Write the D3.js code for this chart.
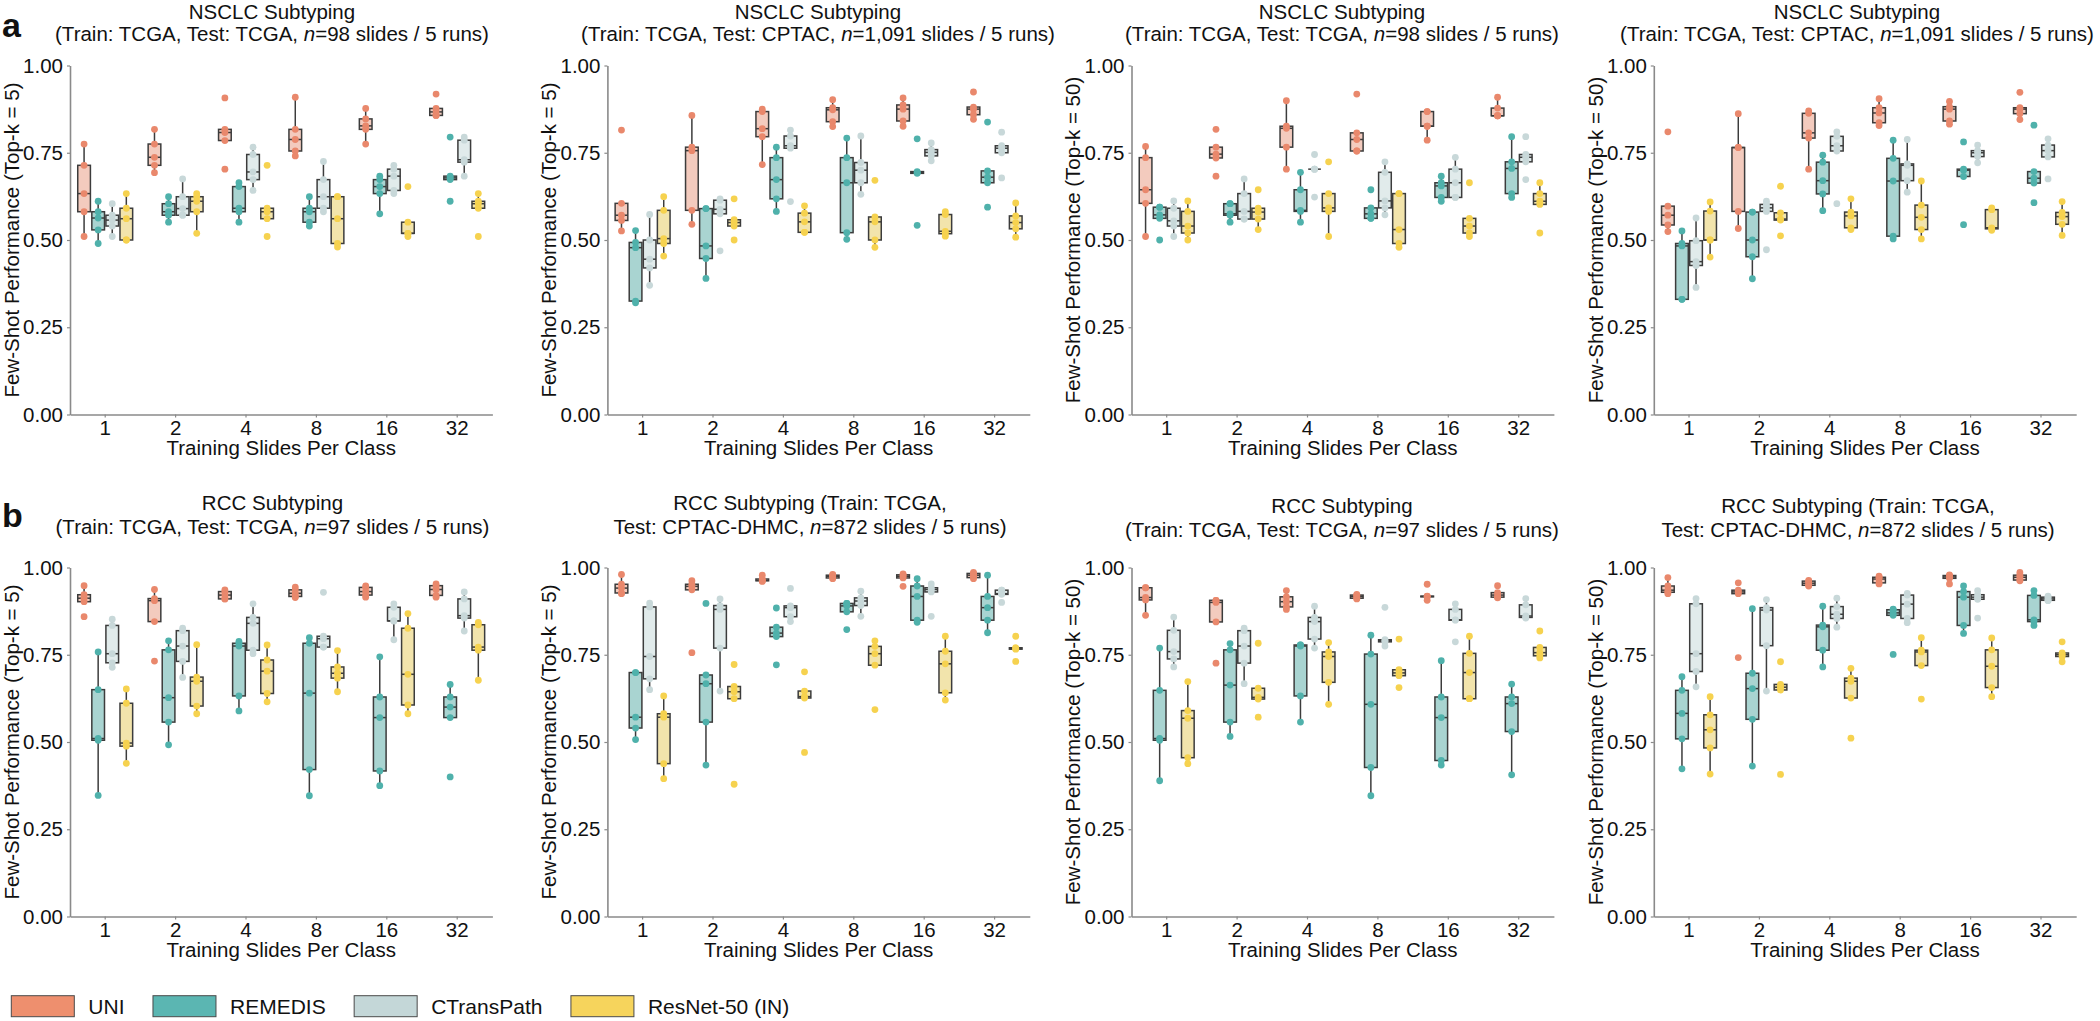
<!DOCTYPE html>
<html>
<head>
<meta charset="utf-8">
<script src="https://cdn.jsdelivr.net/npm/d3@7"></script>
<style>
  html, body { margin: 0; padding: 0; background: #fff; }
  svg { display: block; }
  text { font-family: "Liberation Sans", Arial, Helvetica, sans-serif; }
</style>
</head>
<body>
<script>
// ---------------- DATA ----------------
const shots = ["1", "2", "4", "8", "16", "32"];
const models = ["UNI", "REMEDIS", "CTransPath", "ResNet-50 (IN)"];
const yTicks = [0, 0.25, 0.5, 0.75, 1.0];

// each: per shot -> [UNI runs, REMEDIS runs, CTransPath runs, ResNet-50 runs] (5 runs each)
const nsclcTcgaTop5 = [
  [[0.775,0.714,0.633,0.581,0.510],[0.611,0.581,0.563,0.529,0.490],[0.604,0.571,0.557,0.540,0.510],[0.633,0.591,0.561,0.500,0.500]],
  [[0.817,0.775,0.737,0.714,0.693],[0.624,0.604,0.581,0.571,0.551],[0.675,0.624,0.590,0.571,0.571],[0.633,0.624,0.611,0.581,0.519]],
  [[0.907,0.817,0.808,0.785,0.703],[0.664,0.653,0.591,0.581,0.551],[0.766,0.745,0.695,0.673,0.642],[0.714,0.591,0.581,0.561,0.510]],
  [[0.909,0.817,0.788,0.755,0.741],[0.624,0.591,0.581,0.551,0.540],[0.725,0.673,0.624,0.591,0.581],[0.624,0.624,0.561,0.490,0.480]],
  [[0.877,0.847,0.827,0.817,0.775],[0.683,0.673,0.653,0.633,0.575],[0.714,0.703,0.683,0.642,0.633],[0.653,0.551,0.519,0.519,0.510]],
  [[0.918,0.877,0.867,0.857,0.857],[0.795,0.683,0.678,0.673,0.611],[0.795,0.786,0.730,0.723,0.683],[0.633,0.611,0.604,0.591,0.510]]
];
const nsclcCptacTop5 = [
  [[0.815,0.605,0.571,0.556,0.526],[0.527,0.493,0.478,0.325,0.320],[0.573,0.500,0.445,0.420,0.370],[0.624,0.585,0.504,0.490,0.454]],
  [[0.857,0.766,0.756,0.585,0.545],[0.590,0.590,0.483,0.447,0.390],[0.618,0.614,0.588,0.575,0.469],[0.618,0.558,0.550,0.540,0.500]],
  [[0.875,0.868,0.819,0.796,0.716],[0.766,0.736,0.673,0.618,0.582],[0.815,0.798,0.770,0.763,0.610],[0.598,0.577,0.552,0.522,0.522]],
  [[0.902,0.879,0.873,0.839,0.825],[0.792,0.736,0.664,0.521,0.502],[0.798,0.722,0.700,0.664,0.631],[0.671,0.566,0.552,0.500,0.479]],
  [[0.907,0.887,0.875,0.841,0.826],[0.790,0.696,0.693,0.691,0.542],[0.778,0.759,0.751,0.741,0.727],[0.581,0.573,0.525,0.518,0.511]],
  [[0.924,0.881,0.875,0.859,0.846],[0.838,0.698,0.680,0.664,0.594],[0.809,0.770,0.763,0.750,0.678],[0.606,0.569,0.550,0.532,0.508]]
];
const nsclcTcgaTop50 = [
  [[0.768,0.736,0.644,0.605,0.510],[0.594,0.594,0.572,0.562,0.500],[0.612,0.591,0.555,0.540,0.510],[0.612,0.582,0.540,0.520,0.500]],
  [[0.817,0.766,0.746,0.735,0.683],[0.604,0.604,0.575,0.571,0.551],[0.675,0.633,0.582,0.560,0.560],[0.644,0.591,0.580,0.560,0.530]],
  [[0.899,0.826,0.820,0.766,0.703],[0.694,0.644,0.585,0.582,0.551],[0.745,0.703,0.703,0.703,0.623],[0.724,0.633,0.592,0.582,0.510]],
  [[0.918,0.807,0.788,0.755,0.755],[0.644,0.592,0.575,0.562,0.562],[0.724,0.694,0.612,0.592,0.572],[0.633,0.633,0.530,0.490,0.479]],
  [[0.868,0.868,0.826,0.826,0.786],[0.683,0.664,0.655,0.622,0.611],[0.737,0.703,0.664,0.622,0.622],[0.664,0.562,0.540,0.520,0.510]],
  [[0.909,0.878,0.856,0.856,0.856],[0.796,0.724,0.705,0.633,0.622],[0.796,0.745,0.737,0.724,0.673],[0.664,0.633,0.611,0.602,0.520]]
];
const nsclcCptacTop50 = [
  [[0.810,0.597,0.571,0.543,0.524],[0.526,0.490,0.483,0.330,0.330],[0.563,0.498,0.438,0.427,0.364],[0.609,0.583,0.500,0.500,0.451]],
  [[0.862,0.765,0.765,0.582,0.533],[0.580,0.580,0.500,0.452,0.389],[0.611,0.602,0.592,0.582,0.472],[0.654,0.578,0.560,0.557,0.512]],
  [[0.870,0.863,0.807,0.792,0.703],[0.743,0.723,0.670,0.632,0.584],[0.810,0.797,0.770,0.755,0.604],[0.618,0.580,0.569,0.535,0.530]],
  [[0.905,0.879,0.864,0.836,0.828],[0.786,0.734,0.669,0.511,0.503],[0.788,0.718,0.714,0.670,0.637],[0.669,0.600,0.565,0.530,0.503]],
  [[0.897,0.882,0.875,0.841,0.832],[0.781,0.703,0.700,0.682,0.544],[0.772,0.756,0.750,0.739,0.721],[0.592,0.587,0.535,0.532,0.528]],
  [[0.923,0.879,0.875,0.862,0.845],[0.829,0.696,0.677,0.663,0.607],[0.790,0.772,0.756,0.738,0.675],[0.610,0.579,0.567,0.545,0.513]]
];
const rccTcgaTop5 = [
  [[0.948,0.922,0.912,0.902,0.859],[0.758,0.650,0.510,0.505,0.347],[0.852,0.834,0.753,0.727,0.714],[0.652,0.611,0.497,0.488,0.439]],
  [[0.937,0.911,0.905,0.845,0.732],[0.790,0.764,0.627,0.557,0.492],[0.826,0.819,0.775,0.731,0.685],[0.779,0.686,0.674,0.603,0.581]],
  [[0.936,0.931,0.921,0.910,0.910],[0.788,0.783,0.775,0.632,0.589],[0.896,0.857,0.840,0.763,0.753],[0.778,0.735,0.703,0.639,0.615]],
  [[0.944,0.936,0.926,0.917,0.914],[0.799,0.783,0.640,0.421,0.346],[0.929,0.803,0.796,0.772,0.772],[0.762,0.715,0.697,0.683,0.644]],
  [[0.947,0.943,0.931,0.921,0.915],[0.744,0.629,0.570,0.417,0.375],[0.896,0.886,0.847,0.847,0.793],[0.868,0.826,0.694,0.606,0.581]],
  [[0.953,0.948,0.937,0.920,0.915],[0.665,0.629,0.600,0.570,0.400],[0.930,0.910,0.862,0.855,0.818],[0.843,0.836,0.772,0.763,0.677]]
];
const rccCptacTop5 = [
  [[0.980,0.952,0.941,0.927,0.925],[0.699,0.699,0.571,0.540,0.507],[0.898,0.887,0.745,0.681,0.650],[0.632,0.581,0.571,0.438,0.395]],
  [[0.962,0.952,0.946,0.936,0.756],[0.897,0.692,0.667,0.557,0.434],[0.910,0.891,0.880,0.769,0.646],[0.722,0.659,0.644,0.624,0.379]],
  [[0.978,0.967,0.963,0.962,0.960],[0.884,0.829,0.812,0.802,0.721],[0.940,0.890,0.885,0.859,0.845],[0.701,0.646,0.630,0.626,0.470]],
  [[0.980,0.978,0.975,0.970,0.968],[0.897,0.897,0.890,0.873,0.822],[0.932,0.913,0.904,0.891,0.860],[0.790,0.774,0.753,0.720,0.593]],
  [[0.982,0.979,0.975,0.970,0.946],[0.968,0.947,0.917,0.849,0.843],[0.953,0.942,0.937,0.930,0.860],[0.803,0.760,0.724,0.641,0.620]],
  [[0.986,0.983,0.978,0.971,0.968],[0.978,0.917,0.885,0.849,0.813],[0.935,0.935,0.925,0.923,0.900],[0.803,0.770,0.768,0.766,0.731]]
];
const rccTcgaTop50 = [
  [[0.942,0.942,0.914,0.907,0.863],[0.769,0.648,0.510,0.505,0.389],[0.858,0.820,0.759,0.738,0.715],[0.673,0.590,0.568,0.455,0.438]],
  [[0.906,0.906,0.900,0.844,0.726],[0.782,0.764,0.663,0.557,0.516],[0.826,0.819,0.775,0.726,0.667],[0.783,0.654,0.628,0.623,0.571]],
  [[0.934,0.916,0.902,0.887,0.880],[0.778,0.778,0.775,0.632,0.557],[0.889,0.857,0.845,0.795,0.769],[0.785,0.758,0.745,0.671,0.608]],
  [[0.923,0.921,0.917,0.912,0.910],[0.806,0.752,0.608,0.427,0.346],[0.886,0.793,0.790,0.787,0.775],[0.795,0.707,0.698,0.690,0.656]],
  [[0.952,0.918,0.917,0.916,0.906],[0.733,0.629,0.570,0.447,0.434],[0.896,0.880,0.850,0.849,0.787],[0.803,0.754,0.699,0.624,0.624]],
  [[0.948,0.928,0.921,0.915,0.913],[0.666,0.629,0.610,0.530,0.406],[0.911,0.893,0.861,0.857,0.855],[0.818,0.771,0.756,0.747,0.741]]
];
const rccCptacTop50 = [
  [[0.971,0.947,0.935,0.929,0.925],[0.687,0.648,0.582,0.509,0.423],[0.911,0.896,0.753,0.702,0.658],[0.630,0.578,0.535,0.483,0.408]],
  [[0.956,0.935,0.930,0.925,0.742],[0.882,0.697,0.653,0.565,0.431],[0.908,0.885,0.878,0.776,0.646],[0.730,0.665,0.657,0.649,0.407]],
  [[0.963,0.961,0.955,0.949,0.947],[0.889,0.835,0.830,0.763,0.715],[0.912,0.888,0.866,0.854,0.829],[0.711,0.683,0.674,0.626,0.511]],
  [[0.975,0.972,0.967,0.956,0.953],[0.881,0.879,0.870,0.863,0.751],[0.926,0.921,0.895,0.854,0.842],[0.799,0.763,0.758,0.719,0.623]],
  [[0.979,0.977,0.973,0.969,0.953],[0.947,0.931,0.915,0.834,0.811],[0.934,0.922,0.915,0.909,0.855],[0.798,0.764,0.717,0.656,0.630]],
  [[0.986,0.978,0.972,0.964,0.962],[0.934,0.920,0.850,0.845,0.834],[0.918,0.915,0.910,0.906,0.905],[0.787,0.755,0.750,0.745,0.730]]
];

const panelTitles = [
  ["NSCLC Subtyping", "(Train: TCGA, Test: TCGA, *n*=98 slides / 5 runs)"],
  ["NSCLC Subtyping", "(Train: TCGA, Test: CPTAC, *n*=1,091 slides / 5 runs)"],
  ["NSCLC Subtyping", "(Train: TCGA, Test: TCGA, *n*=98 slides / 5 runs)"],
  ["NSCLC Subtyping", "(Train: TCGA, Test: CPTAC, *n*=1,091 slides / 5 runs)"],
  ["RCC Subtyping", "(Train: TCGA, Test: TCGA, *n*=97 slides / 5 runs)"],
  ["RCC Subtyping (Train: TCGA,", "Test: CPTAC-DHMC, *n*=872 slides / 5 runs)"],
  ["RCC Subtyping", "(Train: TCGA, Test: TCGA, *n*=97 slides / 5 runs)"],
  ["RCC Subtyping (Train: TCGA,", "Test: CPTAC-DHMC, *n*=872 slides / 5 runs)"]
];
const yLabels = ["Few-Shot Performance (Top-k = 5)", "Few-Shot Performance (Top-k = 5)",
                 "Few-Shot Performance (Top-k = 50)", "Few-Shot Performance (Top-k = 50)"];
const xLabel = "Training Slides Per Class";
const panelLetters = ["a", "b"];

// ---------------- STYLE / LAYOUT ----------------
const dotColors = ["#E9886C", "#4FB1AB", "#C8D8D9", "#F6D24F"];
const boxFills  = ["#F3CBBE", "#A9D4D1", "#E1EBEB", "#F2E4AC"];
const legendFills = ["#EE8F6E", "#5BB6B2", "#C4D7D8", "#F6D45C"];
const W = 2100, H = 1021;
const colLefts = [70, 607.4, 1131.5, 1653.8];
const rowTops = [65.5, 567.5];
const PW = 422.4, PH = 349;
const titleCx = [[272, 818, 1342, 1857], [272.5, 810, 1342, 1858]];
const titleBase = [[[18.8, 41],[18.8, 41],[18.8, 41],[18.8, 41]],
                   [[509.5, 534],[509.5, 534],[513, 537],[513, 537]]];
const FS = 20.5;
const axisColor = "#8a8a8a";
const lineColor = "#3c3c3c";

const panelData = [nsclcTcgaTop5, nsclcCptacTop5, nsclcTcgaTop50, nsclcCptacTop50,
                   rccTcgaTop5, rccCptacTop5, rccTcgaTop50, rccCptacTop50];

const svg = d3.select("body").append("svg").attr("width", W).attr("height", H);
svg.append("rect").attr("width", W).attr("height", H).attr("fill", "#fff");

function stats(vals) {
  const s = vals.slice().sort(d3.ascending);
  const q1 = d3.quantile(s, 0.25), med = d3.quantile(s, 0.5), q3 = d3.quantile(s, 0.75);
  const iqr = q3 - q1;
  const loLim = q1 - 1.5 * iqr, hiLim = q3 + 1.5 * iqr;
  const lo = d3.min(s.filter(v => v >= loLim - 1e-9));
  const hi = d3.max(s.filter(v => v <= hiLim + 1e-9));
  return {q1, med, q3, lo: Math.min(lo, q1), hi: Math.max(hi, q3)};
}

function addRichText(sel, str) {
  str.split("*").forEach((part, i) => {
    if (!part) return;
    const t = sel.append("tspan").text(part);
    if (i % 2 === 1) t.attr("font-style", "italic");
  });
}

panelData.forEach((data, pi) => {
  const row = Math.floor(pi / 4), col = pi % 4;
  const g = svg.append("g").attr("transform", `translate(${colLefts[col]},${rowTops[row]})`);
  const x = d3.scaleBand().domain(shots).range([0, PW]).paddingInner(0).paddingOuter(0);
  const inner = d3.scaleBand().domain(models).range([0, x.bandwidth() * 0.8]);
  const y = d3.scaleLinear().domain([0, 1]).range([PH, 0]);
  const bw = inner.bandwidth() * 0.9;

  // axes
  const ya = g.append("g").call(d3.axisLeft(y).tickValues(yTicks).tickFormat(d3.format(".2f"))
      .tickSize(3).tickSizeOuter(0).tickPadding(4));
  const xa = g.append("g").attr("transform", `translate(0,${PH})`)
      .call(d3.axisBottom(x).tickSize(3).tickSizeOuter(0).tickPadding(3));
  [ya, xa].forEach(a => {
    a.select(".domain").attr("stroke", axisColor).attr("stroke-width", 1.6);
    a.selectAll(".tick line").attr("stroke", axisColor).attr("stroke-width", 1.2);
    a.selectAll(".tick text").attr("font-size", FS).attr("fill", "#111")
      .attr("font-family", '"Liberation Sans", Arial, sans-serif');
  });

  // boxes
  data.forEach((groupVals, si) => {
    const gx = x(shots[si]) + x.bandwidth() * 0.1;
    groupVals.forEach((vals, mi) => {
      const st = stats(vals);
      const cx = gx + inner(models[mi]) + inner.bandwidth() / 2;
      const bg = g.append("g");
      const capHalf = bw * 0.2;
      bg.append("line").attr("x1", cx).attr("x2", cx).attr("y1", y(st.q3)).attr("y2", y(st.hi))
        .attr("stroke", lineColor).attr("stroke-width", 1.5);
      bg.append("line").attr("x1", cx).attr("x2", cx).attr("y1", y(st.q1)).attr("y2", y(st.lo))
        .attr("stroke", lineColor).attr("stroke-width", 1.5);
      [st.hi, st.lo].forEach(v => {
        bg.append("line").attr("x1", cx - capHalf).attr("x2", cx + capHalf)
          .attr("y1", y(v)).attr("y2", y(v)).attr("stroke", lineColor).attr("stroke-width", 1.5);
      });
      bg.append("rect").attr("x", cx - bw / 2).attr("width", bw)
        .attr("y", y(st.q3)).attr("height", Math.max(0, y(st.q1) - y(st.q3)))
        .attr("fill", boxFills[mi]).attr("stroke", lineColor).attr("stroke-width", 1.5);
      bg.append("line").attr("x1", cx - bw / 2).attr("x2", cx + bw / 2)
        .attr("y1", y(st.med)).attr("y2", y(st.med)).attr("stroke", lineColor).attr("stroke-width", 1.5);
    });
  });
  // dots on top
  data.forEach((groupVals, si) => {
    const gx = x(shots[si]) + x.bandwidth() * 0.1;
    groupVals.forEach((vals, mi) => {
      const cx = gx + inner(models[mi]) + inner.bandwidth() / 2;
      g.append("g").selectAll("circle").data(vals).join("circle")
        .attr("cx", cx).attr("cy", d => y(d)).attr("r", 3.4).attr("fill", dotColors[mi]);
    });
  });

  // labels
  g.append("text").attr("transform", `translate(-51.2,${PH / 2}) rotate(-90)`)
    .attr("text-anchor", "middle").attr("font-size", FS).attr("fill", "#111").text(yLabels[col]);
  g.append("text").attr("x", PW / 2).attr("y", PH + 40).attr("text-anchor", "middle")
    .attr("font-size", FS).attr("fill", "#111").text(xLabel);

  // title
  panelTitles[pi].forEach((line, li) => {
    const t = svg.append("text").attr("x", titleCx[row][col]).attr("y", titleBase[row][col][li])
      .attr("text-anchor", "middle").attr("font-size", FS).attr("fill", "#111");
    addRichText(t, line);
  });
});

// panel letters
svg.append("text").attr("x", 2).attr("y", 37).attr("font-size", 34).attr("font-weight", "bold")
  .attr("fill", "#111").text(panelLetters[0]);
svg.append("text").attr("x", 2).attr("y", 526.5).attr("font-size", 34).attr("font-weight", "bold")
  .attr("fill", "#111").text(panelLetters[1]);

// legend
let lx = 11.3;
const leg = svg.append("g");
models.forEach((m, i) => {
  leg.append("rect").attr("x", lx).attr("y", 995.7).attr("width", 63).attr("height", 21)
    .attr("fill", legendFills[i]).attr("stroke", "#4a4a4a").attr("stroke-width", 1);
  const t = leg.append("text").attr("x", lx + 77).attr("y", 1014).attr("font-size", 21)
    .attr("fill", "#111").text(m);
  lx = lx + 77 + t.node().getComputedTextLength() + 28.5;
});
</script>
</body>
</html>
